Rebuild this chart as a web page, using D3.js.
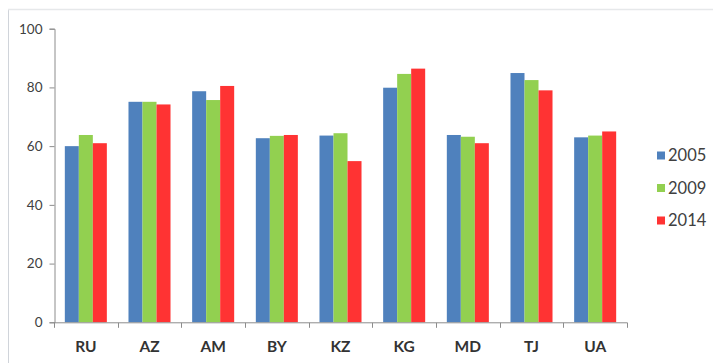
<!DOCTYPE html>
<html><head><meta charset="utf-8">
<script src="https://cdn.jsdelivr.net/npm/d3@7"></script>
<style>body{margin:0;background:#fff;}svg{display:block;}</style>
</head><body>
<script>
const categories = ["RU","AZ","AM","BY","KZ","KG","MD","TJ","UA"];
const seriesNames = ["2005","2009","2014"];
const v2005 = [60.0, 75.1, 78.7, 62.7, 63.6, 79.9, 63.8, 84.9, 63.0];
const v2009 = [63.8, 75.1, 75.7, 63.5, 64.4, 84.6, 63.2, 82.5, 63.6];
const v2014 = [61.0, 74.2, 80.5, 63.8, 54.9, 86.4, 61.0, 79.0, 65.0];
const yTicks = [0, 20, 40, 60, 80, 100];
const colors = ["#4F81BD", "#92D050", "#FF3333"];

const W = 713, H = 363;
const X0 = 54, X1 = 627;
const svg = d3.select("body").append("svg").attr("width", W).attr("height", H);

// outer frame
svg.append("line").attr("x1", 8.5).attr("x2", 8.5).attr("y1", 9).attr("y2", H)
  .attr("stroke", "#d0d4da").attr("stroke-width", 1);
svg.append("line").attr("x1", 8).attr("x2", W).attr("y1", 9.5).attr("y2", 9.5)
  .attr("stroke", "#e6e8ea").attr("stroke-width", 1.5);

const x0 = d3.scaleBand().domain(categories).range([X0, X1]).paddingInner(0.34).paddingOuter(0.17);
const x1 = d3.scaleBand().domain(seriesNames).range([0, x0.bandwidth()]);
const y = d3.scaleLinear().domain([0, 100]).range([322.3, 28.7]);

const data = categories.map((c, i) => ({cat: c, vals: [v2005[i], v2009[i], v2014[i]]}));

const g = svg.append("g");
g.selectAll("g.cat").data(data).join("g").attr("class", "cat")
  .attr("transform", d => `translate(${x0(d.cat)},0)`)
  .selectAll("rect").data(d => d.vals.map((v, j) => ({name: seriesNames[j], v, j})))
  .join("rect")
  .attr("x", d => x1(d.name)).attr("width", x1.bandwidth())
  .attr("y", d => y(d.v)).attr("height", d => y(0) - y(d.v))
  .attr("fill", d => colors[d.j]);

// y axis
const yAxis = svg.append("g").attr("transform", `translate(${X0 + 0.5},0)`)
  .call(d3.axisLeft(y).tickValues(yTicks).tickSize(5).tickPadding(7));
yAxis.select(".domain").attr("stroke", "#8c8c8c");
yAxis.selectAll(".tick line").attr("stroke", "#8c8c8c");
yAxis.selectAll(".tick text").attr("fill", "#404040")
  .style("font-family", "Lato, 'Open Sans', sans-serif").style("font-size", "13.5px");

// x axis
const xAxisScale = d3.scaleLinear().domain([0, categories.length]).range([X0, X1]);
const xAxis = svg.append("g").attr("transform", `translate(0,${y(0) + 0.5})`);
xAxis.append("line").attr("x1", X0).attr("x2", X1 + 0.5).attr("stroke", "#8c8c8c");
xAxis.selectAll("line.tk").data(d3.range(categories.length + 1)).join("line").attr("class", "tk")
  .attr("x1", d => Math.round(xAxisScale(d)) + 0.5).attr("x2", d => Math.round(xAxisScale(d)) + 0.5)
  .attr("y1", 0).attr("y2", 5).attr("stroke", "#8c8c8c");
xAxis.selectAll("text").data(categories).join("text")
  .attr("x", d => x0(d) + x0.bandwidth() / 2).attr("y", 29)
  .attr("text-anchor", "middle").attr("fill", "#333")
  .style("font-family", "Lato, 'Open Sans', sans-serif").style("font-size", "15.5px").style("font-weight", "bold")
  .text(d => d);

// legend
const leg = svg.append("g");
const legY = [155.5, 188, 220.5];
seriesNames.forEach((s, i) => {
  leg.append("rect").attr("x", 657).attr("y", legY[i] - 4).attr("width", 8).attr("height", 8).attr("fill", colors[i]);
  leg.append("text").attr("x", 668).attr("y", legY[i]).attr("dy", "0.35em")
    .attr("fill", "#404040").style("font-family", "Lato, 'Open Sans', sans-serif").style("font-size", "16.5px")
    .text(s);
});
</script>
</body></html>
